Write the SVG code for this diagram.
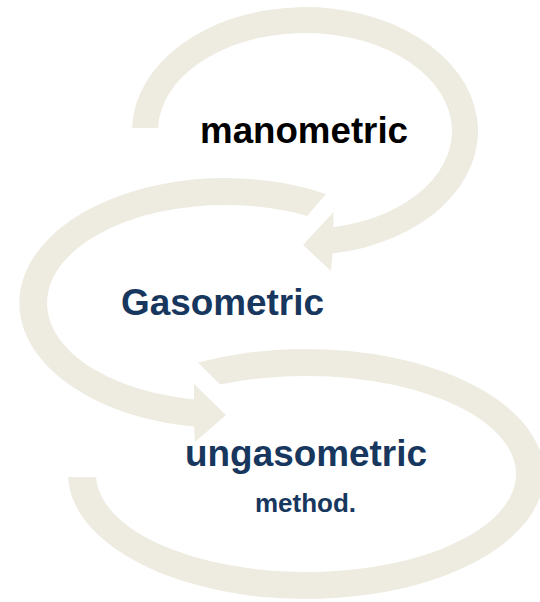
<svg xmlns="http://www.w3.org/2000/svg" width="540" height="602" viewBox="0 0 540 602">
  <style>
    .arc { fill: #EEECE1; stroke: none; }
    .lbl { font-family: "Liberation Sans", Arial, sans-serif; font-weight: bold; text-anchor: middle; }
    .navy { fill: #17375E; }
    .black { fill: #000000; }
  </style>
  <rect width="540" height="602" fill="#FFFFFF"/>
  <g id="connectors">
    <path id="arrow-1" class="arc" d="M 132.05,128 A 173 124 0 1 1 332.5,253.5 L 331,271 L 303,245 L 333.5,212 L 333.3,227.2 A 147 98 0 1 0 158.05,128 Z"/>
    <path id="arrow-2" class="arc" d="M 326,194 A 206 125 0 1 0 194,426.6 L 195,442 L 226,415 L 194,384 L 194,399.5 A 178 98 0 1 1 307,216 Z"/>
    <path id="arrow-3" class="arc" d="M 198,362.6 A 238 125 0 1 1 68.1,477 L 96.1,477 A 210 98 0 1 0 220,384.6 Z"/>
  </g>
  <g id="node-manometric">
    <text class="lbl black" x="304" y="143" font-size="36.7">manometric</text>
  </g>
  <g id="node-gasometric">
    <text class="lbl navy" x="222.5" y="315" font-size="36.9">Gasometric</text>
  </g>
  <g id="node-ungasometric">
    <text class="lbl navy" x="306" y="466" font-size="36.9">ungasometric</text>
    <text class="lbl navy" x="305.5" y="512" font-size="26">method.</text>
  </g>
</svg>
